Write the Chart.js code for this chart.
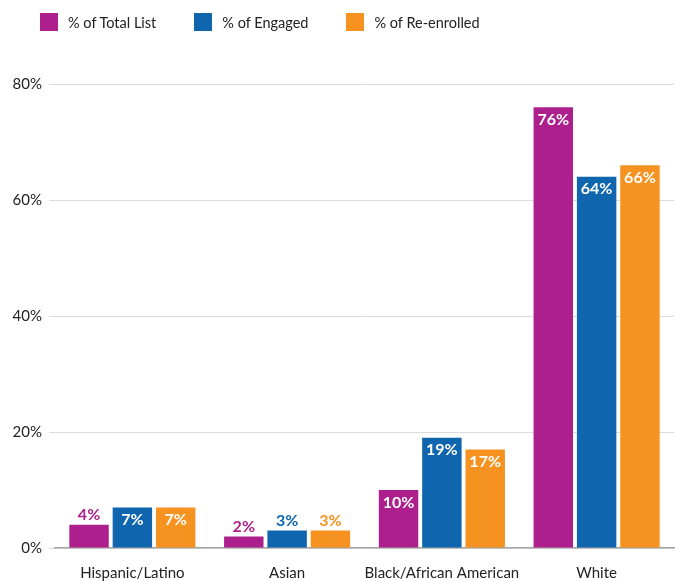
<!DOCTYPE html>
<html>
<head>
<meta charset="utf-8">
<script src="https://cdn.jsdelivr.net/npm/chart.js@4"></script>
<style>
  html, body { margin: 0; padding: 0; background: #fff; }
  #wrap { position: relative; width: 676px; height: 581px; }
  canvas { display: block; }
  #legend { position: absolute; left: 40px; top: 13px; display: flex; font-family: Lato, "Open Sans", sans-serif; font-size: 14.5px; color: #222; }
  .item { display: flex; align-items: center; margin-right: 38px; height: 18px; }
  .sw { width: 18px; height: 18px; margin-right: 10px; }
</style>
</head>
<body>
<div id="wrap">
  <canvas id="c" width="676" height="581"></canvas>
  <div id="legend"></div>
</div>
<script>
const categories = ["Hispanic/Latino", "Asian", "Black/African American", "White"];
const seriesNames = ["% of Total List", "% of Engaged", "% of Re-enrolled"];
const totalList = [4, 2, 10, 76];
const engaged = [7, 3, 19, 64];
const reEnrolled = [7, 3, 17, 66];
const yTicks = [0, 20, 40, 60, 80];

const colors = ["#AD1F8C", "#0F66AE", "#F6921F"];
const seriesValues = [totalList, engaged, reEnrolled];
const fontFamily = 'Lato, "Open Sans", sans-serif';

// HTML legend
const legendEl = document.getElementById('legend');
seriesNames.forEach((name, i) => {
  const it = document.createElement('div');
  it.className = 'item';
  const sw = document.createElement('div');
  sw.className = 'sw';
  sw.style.background = colors[i];
  const tx = document.createElement('span');
  tx.textContent = name;
  it.appendChild(sw); it.appendChild(tx);
  legendEl.appendChild(it);
});

// value labels: white inside the bar top, or coloured above short bars
const valueLabels = {
  id: 'valueLabels',
  afterDatasetsDraw(chart) {
    const ctx = chart.ctx;
    ctx.save();
    ctx.font = 'bold 16px ' + fontFamily;
    ctx.textAlign = 'center';
    ctx.textBaseline = 'middle';
    chart.data.datasets.forEach((ds, di) => {
      const meta = chart.getDatasetMeta(di);
      meta.data.forEach((bar, i) => {
        const v = ds.data[i];
        const txt = v + '%';
        if (v < 5) {
          ctx.fillStyle = colors[di];
          ctx.fillText(txt, bar.x, bar.y - 9.5);
        } else {
          ctx.fillStyle = '#fff';
          ctx.fillText(txt, bar.x, bar.y + 12.5);
        }
      });
    });
    ctx.restore();
  }
};

new Chart(document.getElementById('c'), {
  type: 'bar',
  data: {
    labels: categories,
    datasets: seriesNames.map((n, i) => ({
      label: n,
      data: seriesValues[i],
      backgroundColor: colors[i],
      borderWidth: 0,
      categoryPercentage: 0.84,
      barPercentage: 0.91
    }))
  },
  options: {
    responsive: false,
    animation: false,
    layout: { padding: { top: 84, right: 2, bottom: 0, left: 0 } },
    plugins: {
      legend: { display: false },
      tooltip: { enabled: false }
    },
    scales: {
      x: {
        grid: { display: false, drawTicks: false },
        border: { display: true, color: '#a6a6a6', width: 1.5 },
        ticks: {
          color: '#222',
          font: { family: fontFamily, size: 15 },
          padding: 16.5,
          maxRotation: 0,
          minRotation: 0,
          autoSkip: false
        },
        afterFit(axis) { axis.height = 33; }
      },
      y: {
        min: 0,
        max: 80,
        afterBuildTicks(axis) { axis.ticks = yTicks.map(v => ({ value: v })); },
        grid: { color: '#dcdcdc', tickLength: 6 },
        border: { display: false },
        ticks: {
          color: '#222',
          font: { family: fontFamily, size: 15 },
          padding: 7,
          callback: v => v + '%'
        },
        afterFit(axis) { axis.width = 55; }
      }
    }
  },
  plugins: [valueLabels]
});
</script>
</body>
</html>
